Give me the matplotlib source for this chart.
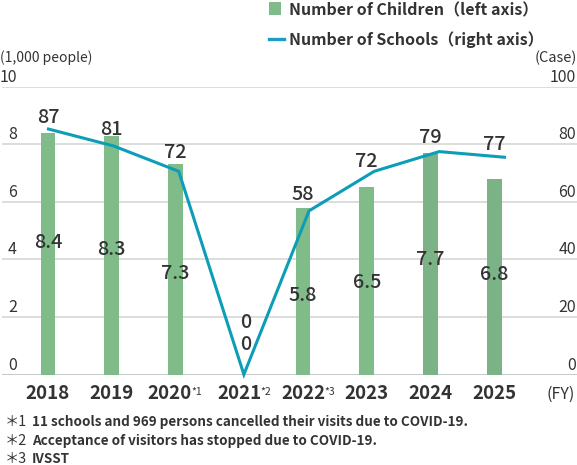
import matplotlib
matplotlib.use("Agg")
import matplotlib.pyplot as plt
import matplotlib.transforms as mtransforms
from matplotlib.patches import Rectangle
from matplotlib.lines import Line2D

plt.rcParams['font.family'] = ['Noto Sans CJK JP', 'DejaVu Sans']

# ---- data ----
years = ["2018", "2019", "2020", "2021", "2022", "2023", "2024", "2025"]
year_notes = ["", "", "*1", "*2", "*3", "", "", ""]
children = [8.4, 8.3, 7.3, 0, 5.8, 6.5, 7.7, 6.8]          # thousand people (left axis)
schools = [87, 81, 72, 0, 58, 72, 79, 77]                   # cases (right axis)
left_ticks = [0, 2, 4, 6, 8, 10]
right_ticks = [0, 20, 40, 60, 80, 100]
legend_children = "Number of Children（left axis）"
legend_schools = "Number of Schools（right axis）"
footnotes = [("＊1", "11 schools and 969 persons cancelled their visits due to COVID-19."),
             ("＊2", "Acceptance of visitors has stopped due to COVID-19."),
             ("＊3", "IVSST")]

# ---- layout (pixels) ----
bar_label_dy = [13.6, 7.1, -2.5, 32.5, -2, 0, 5.7, 4.6]
bar_label_dx = [0, 0, 0, 6.5, 0, 0, 0, 0]
school_label_dy = [14, 18.9, 21.3, 54.5, 18.8, 12.3, 15.6, 15.2]
school_label_dx = [0, 0, 0, 6.5, 0, 0, 0, 0]
year_dx = [0, 0, -5.5, 0, 0, 0, 0, 0]

W, H = 577, 465
DPI = 100
TXT = '#333333'
BAR_COLORS = ['#80BC8A'] * 6 + ['#7BB387'] * 2
LINE_COLOR = '#0C9EB6'
GRID = '#d3d3d3'

fig = plt.figure(figsize=(W / DPI, H / DPI), dpi=DPI)
fig.patch.set_facecolor('white')

ax_left, ax_right = 2, 577
ax_top, ax_bottom = 86.7, 374.5
rect = [ax_left / W, 1 - ax_bottom / H, (ax_right - ax_left) / W, (ax_bottom - ax_top) / H]

ax = fig.add_axes(rect, frameon=False)
ax.set_xlim(-0.7216, 8.298)
ax.set_ylim(0, 10)
ax.set_xticks([])
ax.set_yticks([])

for t in left_ticks:
    ax.axhline(t, color='#c4c4c4' if t == 0 else GRID, lw=1.3 if t == 0 else 1.1, zorder=1)

x = list(range(len(years)))
ax.bar(x, children, width=0.235, color=BAR_COLORS, zorder=2)

ax2 = fig.add_axes(rect, frameon=False)
ax2.set_xlim(-0.7131, 8.1141)
ax2.set_ylim(0, 102)
ax2.set_xticks([])
ax2.set_yticks([])
ax2.plot(x, schools, color=LINE_COLOR, lw=2.2, solid_joinstyle='miter', zorder=3, clip_on=False)

# tick labels (above gridlines)
yblend = mtransforms.blended_transform_factory(ax.transAxes, ax.transData)
for lt, rt in zip(left_ticks, right_ticks):
    ax2.annotate(str(lt), xy=(0, lt), xycoords=yblend, xytext=(15, 5), textcoords='offset pixels',
                 ha='right', va='baseline', fontsize=11.5, color=TXT)
    ax2.annotate(str(rt), xy=(1, lt), xycoords=yblend, xytext=(-1, 5), textcoords='offset pixels',
                 ha='right', va='baseline', fontsize=11.5, color=TXT)

# bar value labels
for i, v in enumerate(children):
    ax2.annotate(f"{v:g}" if v else "0", xy=(i, v / 2), xycoords=ax.transData,
                 xytext=(bar_label_dx[i], bar_label_dy[i] - 7.5), textcoords='offset pixels',
                 ha='center', va='baseline', fontsize=14.3, fontweight='medium', color=TXT, zorder=5)

# school value labels
sblend = mtransforms.blended_transform_factory(ax.transData, ax2.transData)
for i, v in enumerate(schools):
    ax2.annotate(str(v), xy=(i, v), xycoords=sblend,
                 xytext=(school_label_dx[i], school_label_dy[i] - 7.5), textcoords='offset pixels',
                 ha='center', va='baseline', fontsize=14.3, fontweight='medium', color=TXT, zorder=5)

# year labels
xblend = mtransforms.blended_transform_factory(ax.transData, ax.transAxes)
for i, (yr, note) in enumerate(zip(years, year_notes)):
    ax.annotate(yr, xy=(i, 0), xycoords=xblend, xytext=(year_dx[i], -24.8), textcoords='offset pixels',
                ha='center', va='baseline', fontsize=13.5, fontweight='bold', color=TXT)
    if note:
        ax.annotate(note, xy=(i, 0), xycoords=xblend, xytext=(year_dx[i] + 21.5, -20.5),
                    textcoords='offset pixels',
                    ha='left', va='baseline', fontsize=7.5, color=TXT)

fig.text(575 / W, 1 - 399 / H, "(FY)", ha='right', va='baseline', fontsize=11.5, color=TXT)

# units
fig.text(0 / W, 1 - 62 / H, "(1,000 people)", ha='left', va='baseline', fontsize=10, color=TXT)
fig.text(577 / W, 1 - 62 / H, "(Case)", ha='right', va='baseline', fontsize=10.5, color=TXT)

# legend
fig.patches.append(Rectangle((269 / W, 1 - 15 / H), 12 / W, 12.7 / H, transform=fig.transFigure,
                             facecolor=BAR_COLORS[0], edgecolor='none'))
fig.lines.append(Line2D([269 / W, 284 / W], [1 - 39.3 / H] * 2, transform=fig.transFigure,
                        color='#1E9CC4', lw=2.4))
fig.text(289 / W, 1 - 15 / H, legend_children, ha='left', va='baseline', fontsize=11.5,
         fontweight='bold', color=TXT)
fig.text(289 / W, 1 - 45.5 / H, legend_schools, ha='left', va='baseline', fontsize=11.5,
         fontweight='bold', color=TXT)

# footnotes
for k, (mark, text) in enumerate(footnotes):
    yb = 426.3 + k * 18.2
    fig.text(5 / W, 1 - yb / H, mark, ha='left', va='baseline', fontsize=10.3, color=TXT)
    fig.text(32 / W, 1 - yb / H, text, ha='left', va='baseline', fontsize=9.7,
             fontweight='bold', color=TXT)

fig.savefig("out.png", dpi=DPI, facecolor='white')
